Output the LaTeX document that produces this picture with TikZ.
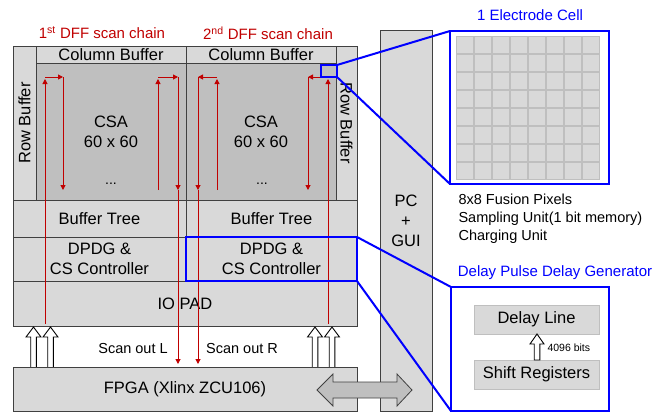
\documentclass[tikz,border=0pt]{standalone}
\usepackage{fontspec}
\setmainfont{Liberation Sans}
\usetikzlibrary{arrows.meta}

\definecolor{boxgray}{HTML}{D9D9D9}
\definecolor{csagray}{HTML}{BFBFBF}
\definecolor{edgegray}{HTML}{404040}
\definecolor{chainred}{HTML}{C00000}
\definecolor{zoomblue}{HTML}{0000FF}

\tikzset{
  blk/.style={draw=edgegray, fill=boxgray, line width=0.8pt, inner sep=0pt, outer sep=0pt,
    align=center, font=\fontsize{16.5}{20}\selectfont},
  csa/.style={blk, fill=csagray, minimum width=150pt, minimum height=137pt},
  chain/.style={draw=chainred, line width=1pt, -{Triangle[length=5pt,width=5pt]}},
  chaintxt/.style={text=chainred, font=\fontsize{15}{18}\selectfont},
  bluetxt/.style={text=zoomblue, font=\fontsize{15}{18}\selectfont},
  zoombox/.style={draw=zoomblue, fill=white, line width=2pt, inner sep=0pt, outer sep=0pt},
  zoomline/.style={draw=zoomblue, line width=2pt},
  pixcell/.style={draw=csagray, fill=boxgray, line width=0.6pt},
  blockarr/.style={draw=black, fill=white, line width=0.9pt},
  inbox/.style={draw=csagray, fill=boxgray, line width=0.8pt, inner sep=0pt,
    minimum width=125pt, minimum height=29pt, font=\fontsize{16.5}{20}\selectfont}
}

\begin{document}
\begin{tikzpicture}[x=1pt,y=-1pt]
\useasboundingbox (0,0) rectangle (664,413);

% Scan chain titles
\node[chaintxt] (dffL) at (102,33) {1\textsuperscript{st} DFF scan chain};
\node[chaintxt] (dffR) at (268,33) {2\textsuperscript{nd} DFF scan chain};

% Chip
\node[blk, rotate=90, minimum width=154pt, minimum height=23pt] (rowL) at (24.5,123) {Row Buffer};
\node[blk, rotate=-90, minimum width=154pt, minimum height=21pt] (rowR) at (346.5,123) {Row Buffer};
\node[blk, minimum width=150pt, minimum height=17pt] (colL) at (111,54.5) {Column Buffer};
\node[blk, minimum width=150pt, minimum height=17pt] (colR) at (261,54.5) {Column Buffer};
\node[csa] (csaL) at (111,131.5) {CSA\\60 x 60};
\node[csa] (csaR) at (261,131.5) {CSA\\60 x 60};
\node[font=\fontsize{14}{16}\selectfont] (dotsL) at (111,184) {...};
\node[font=\fontsize{14}{16}\selectfont] (dotsR) at (262,184) {...};

\node[blk, minimum width=173pt, minimum height=37pt] (btL) at (99.5,218.5) {Buffer Tree};
\node[blk, minimum width=171pt, minimum height=37pt] (btR) at (271.5,218.5) {Buffer Tree};
\node[blk, minimum width=173pt, minimum height=44pt] (dpdgL) at (99.5,259) {DPDG \&\\CS Controller};
\node[blk, minimum width=171pt, minimum height=44pt] (dpdgR) at (271.5,259) {DPDG \&\\CS Controller};
\node[blk, minimum width=344pt, minimum height=45pt] (io) at (185,303.5) {IO PAD};

% 1st chain
\draw[chain] (45,324) -- (45,79);
\draw[chain] (45,77) -- (63,77);
\draw[chain] (63,77) -- (63,190);
\draw[chain] (158,190) -- (158,79);
\draw[chain] (158,77) -- (178,77);
\draw[chain] (178,77) -- (178,190);
\draw[chain] (178,190) -- (178,364);

% 2nd chain
\draw[chain] (217,190) -- (217,79);
\draw[chain] (217,77) -- (198,77);
\draw[chain] (198,77) -- (198,190);
\draw[chain] (198,190) -- (198,364);
\draw[chain] (328,324) -- (328,79);
\draw[chain] (328,77) -- (308,77);
\draw[chain] (308,77) -- (308,190);

\node[font=\fontsize{14.5}{17}\selectfont] (outL) at (133,349) {Scan out L};
\node[font=\fontsize{14.5}{17}\selectfont] (outR) at (242,349) {Scan out R};

% IO arrows
\foreach \x in {33.5,50.5,315,332}
{
\draw[blockarr] (\x-2.8,369) -- (\x-2.8,337) -- (\x-7.5,337) -- (\x,327)
  -- (\x+7.5,337) -- (\x+2.8,337) -- (\x+2.8,369) -- cycle;
}

% FPGA and PC
\node[blk, minimum width=344pt, minimum height=44pt] (fpga) at (185,389) {FPGA (Xlinx ZCU106)};
\node[blk, minimum width=52pt, minimum height=381pt] (pc) at (406,220.5) {PC\\+\\GUI};
\draw[draw=edgegray, fill=csagray, line width=0.8pt] (317,390) -- (333,374) -- (333,382)
  -- (397,382) -- (397,374) -- (412,390) -- (397,406) -- (397,398) -- (333,398)
  -- (333,406) -- cycle;

% Electrode cell
\node[zoombox, fill=none, minimum width=16pt, minimum height=12pt] (pix) at (329,71) {};
\node[zoombox, minimum width=159pt, minimum height=153pt] (cell) at (529.5,107.5) {};
\foreach \i in {0,...,7}
{
\foreach \j in {0,...,7}
{
\draw[pixcell] (456.5+18*\i,36.5+18*\j) rectangle ++(16.5,16.5);
}
}
\draw[zoomline] (pix.north east) -- (cell.north west);
\draw[zoomline] (pix.south east) -- (cell.south west);
\node[bluetxt] (celltitle) at (530,15) {1 Electrode Cell};
\node[anchor=west, align=left, font=\fontsize{14.5}{18}\selectfont] (cellinfo) at (455,219)
  {8x8 Fusion Pixels\\Sampling Unit(1 bit memory)\\Charging Unit};

% Delay pulse delay generator
\draw[zoomline] (dpdgR.north west) rectangle (dpdgR.south east);
\node[zoombox, minimum width=158pt, minimum height=124pt] (dpg) at (530,349) {};
\draw[zoomline] (dpdgR.north east) -- (dpg.north west);
\draw[zoomline] (dpdgR.south east) -- (dpg.south west);
\node[bluetxt] (dpgtitle) at (555,273) {Delay Pulse Delay Generator};
\node[inbox] (dline) at (536.5,319.5) {Delay Line};
\node[inbox] (sreg) at (536.5,374.5) {Shift Registers};
\draw[blockarr] (534.2,360) -- (534.2,344) -- (530,344) -- (537,334) -- (544,344)
  -- (539.8,344) -- (539.8,360) -- cycle;
\node[anchor=west, font=\fontsize{10.5}{12}\selectfont] (bits) at (544,348) {4096 bits};

\end{tikzpicture}
\end{document}
